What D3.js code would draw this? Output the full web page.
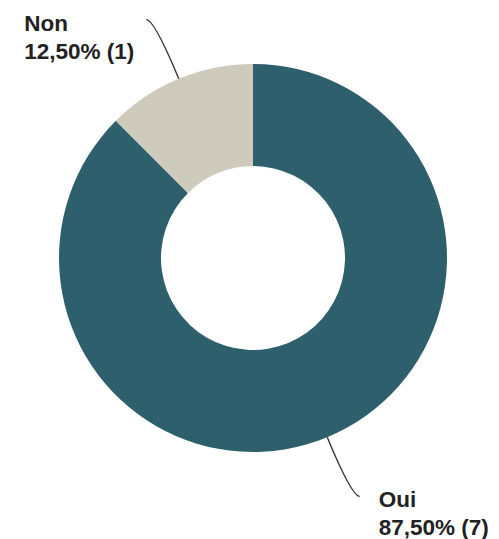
<html>
<head>
    <title>Oui / Non</title>
    <script src="https://d3js.org/d3.v7.min.js"></script>
    <style>
        body { margin: 0; background: #fff; }
        svg { font-family: "Liberation Sans", Arial, sans-serif; }
        .label { font-size: 22.5px; font-weight: bold; fill: #222; }
        .leader { fill: none; stroke: #333; stroke-width: 1.4px; }
    </style>
</head>
<body>
<div id="chart"></div>
<script>
    // data
    var categories = ["Oui", "Non"];
    var counts = [7, 1];
    var colors = ["#2e5f6c", "#cecbbd"];

    var width = 499, height = 539;
    var cx = 253, cy = 258;
    var outerR = 194, innerR = 92;

    var total = d3.sum(counts);
    var data = categories.map(function(c, i) {
        return { name: c, value: counts[i], color: colors[i] };
    });

    var svg = d3.select("#chart").append("svg")
        .attr("width", width)
        .attr("height", height);

    var g = svg.append("g").attr("transform", `translate(${cx}, ${cy})`);

    var pie = d3.pie().sort(null).value(d => d.value);
    var arc = d3.arc().innerRadius(innerR).outerRadius(outerR);

    var arcs = pie(data);

    g.selectAll(".slice")
        .data(arcs).enter()
        .append("path")
        .attr("class", "slice")
        .attr("d", arc)
        .style("fill", d => d.data.color);

    /* labels with curved leader lines */
    function fmt(v) {
        return (v / total * 100).toFixed(2).replace(".", ",") + "% (" + v + ")";
    }

    arcs.forEach(function(d) {
        var mid = (d.startAngle + d.endAngle) / 2;
        var sx = Math.sin(mid), sy = -Math.cos(mid);
        var p0 = [outerR * sx, outerR * sy];
        var knee = [outerR * 1.33 * sx, outerR * 1.33 * sy];
        var side = sx >= 0 ? 1 : -1;
        var end = [knee[0] + 8 * side, knee[1]];

        g.append("path")
            .attr("class", "leader")
            .attr("d", `M${p0[0]},${p0[1]} Q${knee[0]},${knee[1]} ${end[0]},${end[1]}`);

        var t = g.append("text").attr("class", "label");
        var l1 = t.append("tspan").text(d.data.name);
        var l2 = t.append("tspan").text(fmt(d.data.value));
        var w = Math.max(l1.node().getComputedTextLength(), l2.node().getComputedTextLength());
        var x = side > 0 ? end[0] + 19 : end[0] - 12 - w;
        l1.attr("x", x).attr("y", end[1] + 11);
        l2.attr("x", x).attr("y", end[1] + 39);
    });
</script>
</body>
</html>
